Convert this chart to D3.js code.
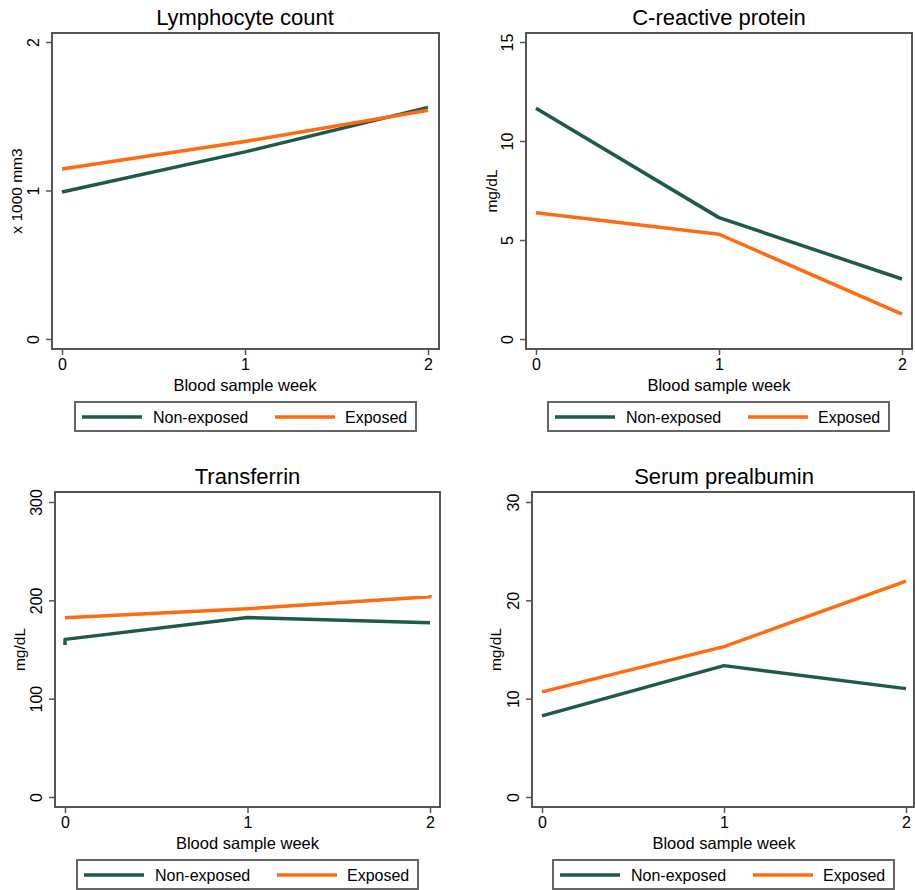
<!DOCTYPE html>
<html>
<head>
<meta charset="utf-8">
<script src="https://cdn.jsdelivr.net/npm/d3@7"></script>
<style>
  html, body { margin: 0; padding: 0; background: #fff; }
  svg { display: block; font-family: "Liberation Sans", Arial, sans-serif; }
</style>
</head>
<body>
<svg id="chart" width="915" height="890"></svg>
<script>
// week of blood sample
const weeks = [0, 1, 2];
const seriesNames = ["Non-exposed", "Exposed"];
const seriesColors = ["#1d5a4c", "#ff6b0f"];

// panel titles, y titles and y ticks
const panelTitles = ["Lymphocyte count", "C-reactive protein", "Transferrin", "Serum prealbumin"];
const yTitles = ["x 1000 mm3", "mg/dL", "mg/dL", "mg/dL"];
const yTicks = [[0, 1, 2], [0, 5, 10, 15], [0, 100, 200, 300], [0, 10, 20, 30]];

// values
const lymphNonExposed = [0.99, 1.26, 1.56];
const lymphExposed = [1.145, 1.33, 1.54];
const crpNonExposed = [11.65, 6.13, 3.03];
const crpExposed = [6.38, 5.29, 1.26];
// transferrin lines have a small hook at the ends (repeated week)
const transWeeksNonExposed = [0, 0, 1, 2];
const transNonExposed = [154.5, 160.3, 182.6, 177.2];
const transWeeksExposed = [0, 1, 2, 2];
const transExposed = [182.3, 191.4, 203.6, 205.3];
const prealbNonExposed = [8.25, 13.36, 11.02];
const prealbExposed = [10.69, 15.29, 21.95];

const panelData = [
    [{ x: weeks, y: lymphNonExposed }, { x: weeks, y: lymphExposed }],
    [{ x: weeks, y: crpNonExposed }, { x: weeks, y: crpExposed }],
    [{ x: transWeeksNonExposed, y: transNonExposed }, { x: transWeeksExposed, y: transExposed }],
    [{ x: weeks, y: prealbNonExposed }, { x: weeks, y: prealbExposed }]
];

// frame of each plot area and the pixel range of the axes
const layout = [
    { left: 52, right: 439, top: 33, bottom: 349, x0: 62, x1: 428, y0: 339, y1: 42, yTitleX: 17, legendX: 75 },
    { left: 526, right: 912, top: 33, bottom: 349, x0: 536, x1: 902, y0: 339, y1: 42, yTitleX: 492, legendX: 548 },
    { left: 55, right: 440, top: 492, bottom: 807, x0: 65, x1: 430, y0: 797, y1: 502, yTitleX: 20, legendX: 77 },
    { left: 532, right: 914, top: 492, bottom: 807, x0: 542, x1: 906, y0: 797, y1: 502, yTitleX: 496, legendX: 553 }
];

const svg = d3.select("#chart");

panelTitles.forEach((title, i) => {
    const L = layout[i];
    const g = svg.append("g");

    const xScale = d3.scaleLinear().domain([0, 2]).range([L.x0, L.x1]);
    const ticks = yTicks[i];
    const yScale = d3.scaleLinear().domain([ticks[0], ticks[ticks.length - 1]]).range([L.y0, L.y1]);

    // plot frame
    g.append("rect")
        .attr("x", L.left)
        .attr("y", L.top)
        .attr("width", L.right - L.left)
        .attr("height", L.bottom - L.top)
        .attr("fill", "#fff")
        .attr("stroke", "#555")
        .attr("stroke-width", 2);

    // y axis
    const yAxis = g.append("g")
        .attr("transform", `translate(${L.left},0)`)
        .call(d3.axisLeft(yScale).tickValues(ticks).tickSize(6).tickFormat(d3.format("d")));
    yAxis.select(".domain").remove();
    yAxis.selectAll(".tick line").attr("stroke", "#555").attr("stroke-width", 1.5);
    yAxis.selectAll(".tick text")
        .attr("transform", "rotate(-90)")
        .attr("x", 0)
        .attr("y", -13)
        .attr("dy", 0)
        .attr("text-anchor", "middle")
        .attr("font-size", "16px")
        .attr("fill", "#000");

    // x axis
    const xAxis = g.append("g")
        .attr("transform", `translate(0,${L.bottom})`)
        .call(d3.axisBottom(xScale).tickValues(weeks).tickSize(6).tickFormat(d3.format("d")));
    xAxis.select(".domain").remove();
    xAxis.selectAll(".tick line").attr("stroke", "#555").attr("stroke-width", 1.5);
    xAxis.selectAll(".tick text")
        .attr("y", 10)
        .attr("font-size", "16px")
        .attr("fill", "#000");

    // titles
    g.append("text")
        .attr("x", xScale(1))
        .attr("y", L.top - 8)
        .attr("text-anchor", "middle")
        .attr("font-size", "22px")
        .attr("fill", "#000")
        .text(title);

    g.append("text")
        .attr("x", xScale(1))
        .attr("y", L.bottom + 42)
        .attr("text-anchor", "middle")
        .attr("font-size", "16.5px")
        .attr("fill", "#000")
        .text("Blood sample week");

    const yMid = (L.top + L.bottom) / 2;
    g.append("text")
        .attr("transform", `translate(${L.yTitleX + 5},${yMid}) rotate(-90)`)
        .attr("text-anchor", "middle")
        .attr("font-size", "15.5px")
        .attr("fill", "#000")
        .text(yTitles[i]);

    // lines
    const line = d3.line()
        .x(d => xScale(d[0]))
        .y(d => yScale(d[1]));

    panelData[i].forEach((s, k) => {
        const pts = s.x.map((w, j) => [w, s.y[j]]);
        g.append("path")
            .attr("d", line(pts))
            .attr("fill", "none")
            .attr("stroke", seriesColors[k])
            .attr("stroke-width", 3.5)
            .attr("stroke-linejoin", "round");
    });

    // legend
    const lg = g.append("g").attr("transform", `translate(${L.legendX},${L.bottom + 53})`);
    lg.append("rect")
        .attr("x", 0)
        .attr("y", 0)
        .attr("width", 341)
        .attr("height", 29)
        .attr("fill", "#fff")
        .attr("stroke", "#666")
        .attr("stroke-width", 2);

    const legendOffsets = [{ line: 7, text: 78 }, { line: 200, text: 270 }];
    seriesNames.forEach((name, k) => {
        lg.append("line")
            .attr("x1", legendOffsets[k].line)
            .attr("x2", legendOffsets[k].line + 60)
            .attr("y1", 15)
            .attr("y2", 15)
            .attr("stroke", seriesColors[k])
            .attr("stroke-width", 3.5);
        lg.append("text")
            .attr("x", legendOffsets[k].text)
            .attr("y", 21)
            .attr("font-size", "16px")
            .attr("fill", "#000")
            .text(name);
    });
});
</script>
</body>
</html>
